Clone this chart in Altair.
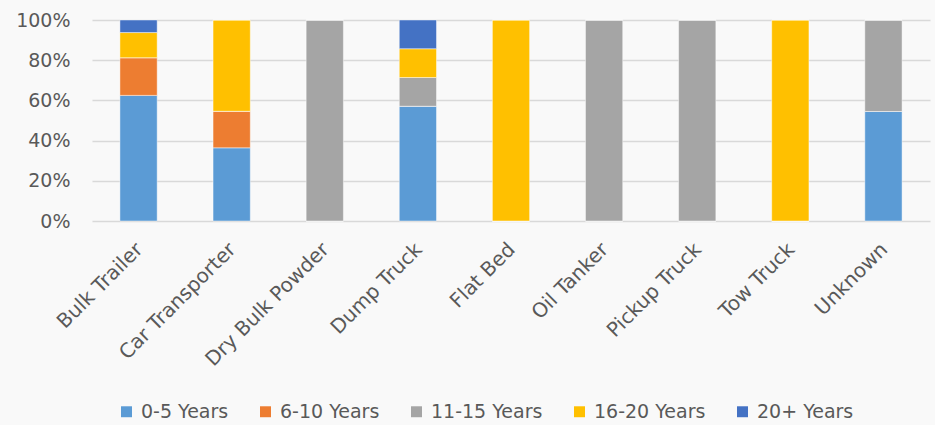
import altair as alt
import pandas as pd

categories = ["Bulk Trailer", "Car Transporter", "Dry Bulk Powder", "Dump Truck",
              "Flat Bed", "Oil Tanker", "Pickup Truck", "Tow Truck", "Unknown"]
series = ["0-5 Years", "6-10 Years", "11-15 Years", "16-20 Years", "20+ Years"]
colors = ["#5B9BD5", "#ED7D31", "#A5A5A5", "#FFC000", "#4472C4"]

# share of each age group per vehicle type (fractions)
age_0_5 = [0.625, 0.364, 0.0, 0.571, 0.0, 0.0, 0.0, 0.0, 0.545]
age_6_10 = [0.1875, 0.182, 0.0, 0.0, 0.0, 0.0, 0.0, 0.0, 0.0]
age_11_15 = [0.0, 0.0, 1.0, 0.143, 0.0, 1.0, 1.0, 0.0, 0.455]
age_16_20 = [0.125, 0.454, 0.0, 0.143, 1.0, 0.0, 0.0, 1.0, 0.0]
age_20p = [0.0625, 0.0, 0.0, 0.143, 0.0, 0.0, 0.0, 0.0, 0.0]

rows = []
for s_i, (name, vals) in enumerate(zip(series, [age_0_5, age_6_10, age_11_15, age_16_20, age_20p])):
    for c, v in zip(categories, vals):
        rows.append({"Type": c, "Age": name, "Share": v, "order": s_i})
df = pd.DataFrame(rows)

FONT = "DejaVu Sans"
TXT = "#595959"

chart = alt.Chart(df).mark_bar(stroke="#FFFFFF", strokeWidth=0.75, strokeOpacity=0.6).encode(
    x=alt.X("Type:N", sort=categories, title=None,
            scale=alt.Scale(paddingInner=0.6, paddingOuter=0.3),
            axis=alt.Axis(labelAngle=-45, labelAlign="right", labelBaseline="middle",
                          labelPadding=25, labelOffset=1, ticks=False, domain=False,
                          labelFontSize=20, labelColor=TXT, labelFont=FONT, grid=False)),
    y=alt.Y("Share:Q", stack="zero", title=None,
            scale=alt.Scale(domain=[0, 1], nice=False),
            axis=alt.Axis(values=[0, 0.2, 0.4, 0.6, 0.8, 1.0], format=".0%",
                          ticks=False, domain=False, labelPadding=22,
                          labelFontSize=19, labelColor=TXT, labelFont=FONT,
                          grid=True, gridColor="#D9D9D9", gridWidth=1.5)),
    color=alt.Color("Age:N", sort=series,
                    scale=alt.Scale(domain=series, range=colors),
                    legend=alt.Legend(title=None, orient="none", direction="horizontal",
                                      legendX=25, legendY=382, columns=5,
                                      symbolType="square", symbolSize=120,
                                      symbolStrokeWidth=0, labelFontSize=19,
                                      labelColor=TXT, labelFont=FONT,
                                      columnPadding=27, labelOffset=5)),
    order=alt.Order("order:Q"),
).properties(
    width=838, height=201,
    padding={"left": 92, "top": 20, "right": 5, "bottom": 204},
    autosize=alt.AutoSizeParams(type="none"),
    background="#F9F9F9",
).configure_view(stroke=None)

chart.save("out.html", embed_options={"renderer": "svg", "actions": False})
